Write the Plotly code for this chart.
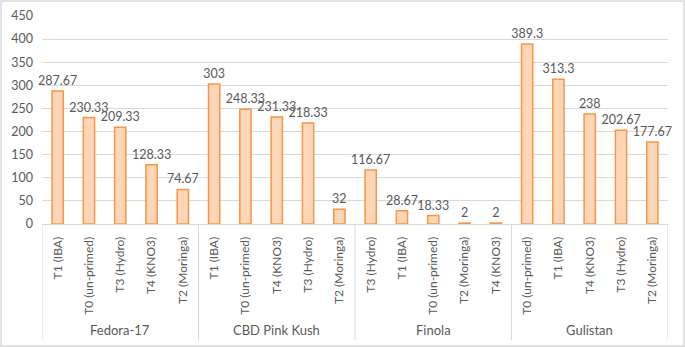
import plotly.graph_objects as go

group_names = ["Fedora-17", "CBD Pink Kush", "Finola", "Gulistan"]
group_size = 5
treatments = [
    "T1 (IBA)", "T0 (un-primed)", "T3 (Hydro)", "T4 (KNO3)", "T2 (Moringa)",
    "T1 (IBA)", "T0 (un-primed)", "T4 (KNO3)", "T3 (Hydro)", "T2 (Moringa)",
    "T3 (Hydro)", "T1 (IBA)", "T0 (un-primed)", "T2 (Moringa)", "T4 (KNO3)",
    "T0 (un-primed)", "T1 (IBA)", "T4 (KNO3)", "T3 (Hydro)", "T2 (Moringa)",
]
values = [287.67, 230.33, 209.33, 128.33, 74.67,
          303, 248.33, 231.33, 218.33, 32,
          116.67, 28.67, 18.33, 2, 2,
          389.3, 313.3, 238, 202.67, 177.67]
labels = ["287.67", "230.33", "209.33", "128.33", "74.67",
          "303", "248.33", "231.33", "218.33", "32",
          "116.67", "28.67", "18.33", "2", "2",
          "389.3", "313.3", "238", "202.67", "177.67"]
y_ticks = [0, 50, 100, 150, 200, 250, 300, 350, 400, 450]

W, H = 685, 347
L, R, T, B = 42, 17, 16, 123
pw, ph = W - L - R, H - T - B

font_family = "Lato, Open Sans, sans-serif"
grid = "#D9D9D9"
txt = "#595959"

pos = list(range(len(values)))

fig = go.Figure()
fig.add_trace(go.Bar(
    x=pos,
    y=values,
    text=labels,
    textposition="outside",
    constraintext="none",
    cliponaxis=False,
    textfont=dict(size=12.5, color=txt, family=font_family),
    marker=dict(color="#FCD6B6", line=dict(color="#F79646", width=1.5)),
    width=0.36,
))

shapes = []
for k in range(len(group_names) + 1):
    xd = k * group_size - 0.5
    shapes.append(dict(type="line", xref="x", yref="paper",
                       x0=xd, x1=xd, y0=0, y1=-(116 / ph),
                       line=dict(color=grid, width=1)))
shapes.append(dict(
    type="rect", xref="paper", yref="paper",
    x0=-(L - 1) / pw, x1=1 + (R - 1) / pw,
    y0=-(B - 1) / ph, y1=1 + (T - 1) / ph,
    line=dict(color=grid, width=1.5),
))

annotations = []
for k, g in enumerate(group_names):
    xc = k * group_size + (group_size - 1) / 2
    annotations.append(dict(
        x=xc, xref="x", y=-(106 / ph), yref="paper",
        text=g, showarrow=False, yanchor="middle",
        font=dict(size=13, color=txt, family=font_family),
    ))

fig.update_layout(
    width=W, height=H,
    margin=dict(l=L, r=R, t=T, b=B, autoexpand=False),
    paper_bgcolor="white", plot_bgcolor="white",
    showlegend=False,
    font=dict(family=font_family, color=txt, size=12),
    xaxis=dict(
        range=[-0.5, len(values) - 0.5],
        tickvals=pos, ticktext=treatments,
        tickangle=-90,
        showline=True, linecolor=grid, linewidth=1,
        showgrid=False, zeroline=False,
        tickfont=dict(size=12, color=txt),
        ticks="", ticklabelstandoff=7,
        automargin=False,
    ),
    yaxis=dict(
        range=[0, 450],
        tickvals=y_ticks,
        showgrid=True, gridcolor=grid, gridwidth=1,
        zeroline=False,
        tickfont=dict(size=12.5, color=txt),
        ticklabelstandoff=8,
        automargin=False,
    ),
    shapes=shapes,
    annotations=annotations,
)

fig.write_html("out.html",
               config={"displayModeBar": False},
               post_script="document.body.style.margin='0';document.body.style.overflow='hidden';")
